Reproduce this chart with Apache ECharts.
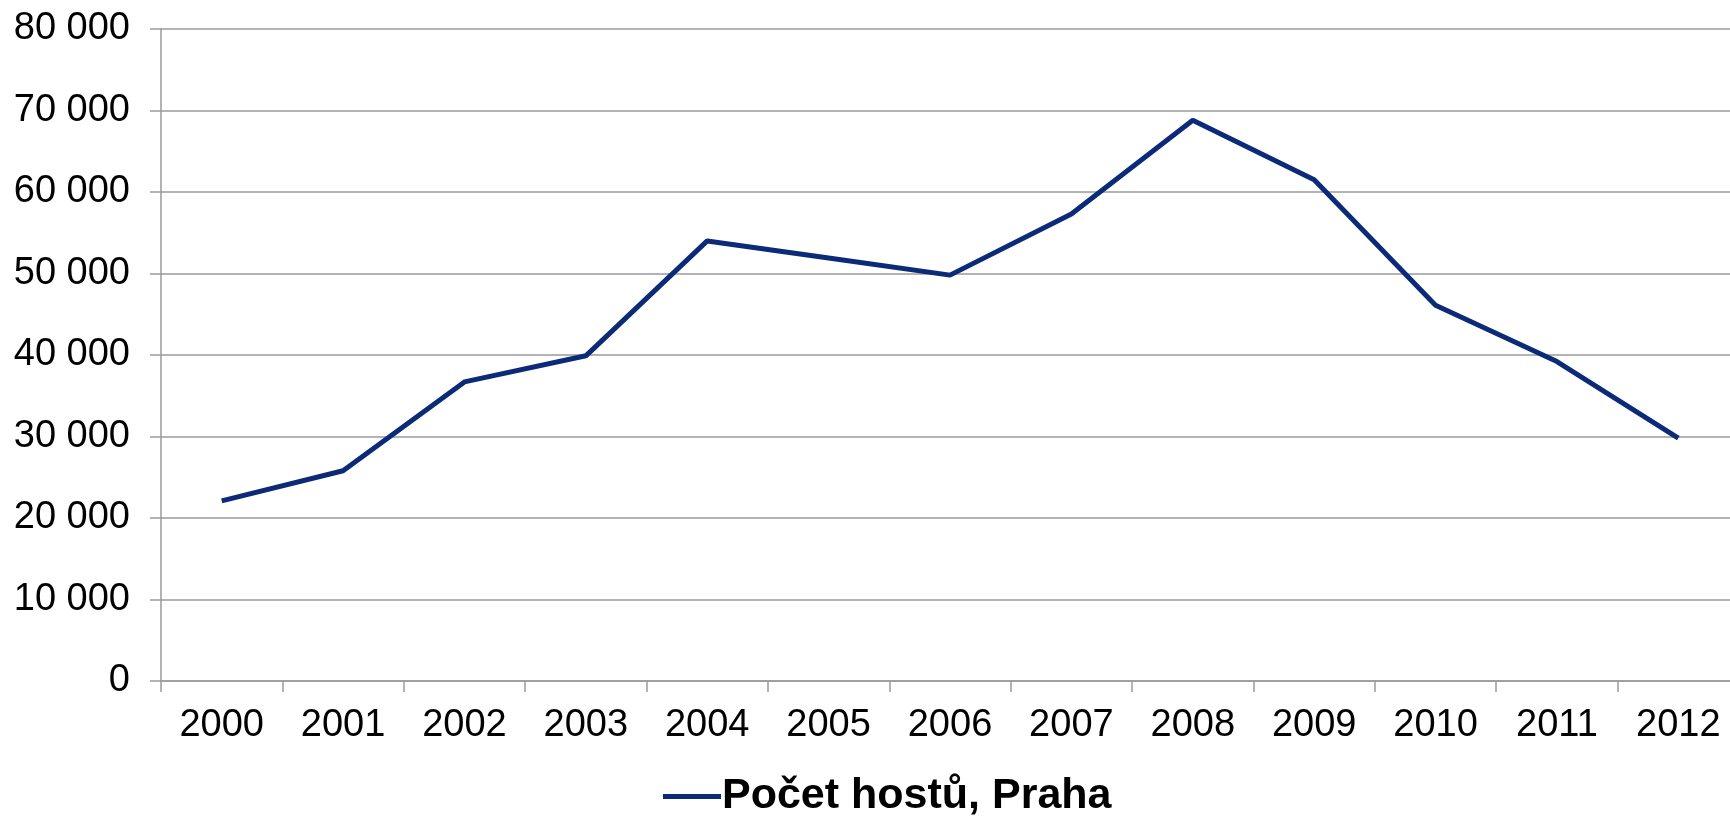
<!DOCTYPE html>
<html>
<head>
<meta charset="utf-8">
<title>Počet hostů, Praha</title>
<script src="https://cdn.jsdelivr.net/npm/echarts@6/dist/echarts.min.js"></script>
<style>
  html, body { margin: 0; padding: 0; background: #fff; }
  #chart { width: 1730px; height: 816px; }
</style>
</head>
<body>
<div id="chart"></div>
<script>
// roky a počty hostů
const years = ['2000', '2001', '2002', '2003', '2004', '2005', '2006',
  '2007', '2008', '2009', '2010', '2011', '2012'];
const guests = [22100, 25800, 36700, 39900, 54000, 51900, 49800,
  57300, 68800, 61500, 46100, 39200, 29800];
const seriesName = 'Počet hostů, Praha';

const font = '"Liberation Sans", Arial, sans-serif';
const gray = '#9a9a9a';

const chart = echarts.init(document.getElementById('chart'));

const option = {
  animation: false,
  backgroundColor: '#fff',
  grid: {
    left: 161,
    width: 1578,   // plocha grafu přesahuje pravý okraj obrázku
    top: 29,
    bottom: 135,
    outerBoundsMode: 'none'
  },
  legend: {
    left: 658,
    top: 770,
    icon: 'rect',
    itemWidth: 58,
    itemHeight: 5,
    itemGap: 0,
    textStyle: {
      fontFamily: font,
      fontSize: 43,
      fontWeight: 'bold',
      color: '#000',
      padding: [0, 0, 0, -4]
    },
    data: [seriesName]
  },
  xAxis: {
    type: 'category',
    data: years,
    boundaryGap: true,
    axisLine: { lineStyle: { color: gray, width: 1.5 } },
    axisTick: { show: true, length: 11, lineStyle: { color: gray, width: 1.5 } },
    axisLabel: {
      fontFamily: font,
      fontSize: 38,
      color: '#000',
      margin: 26
    }
  },
  yAxis: {
    type: 'value',
    min: 0,
    max: 80000,
    interval: 10000,
    axisLine: { show: true, lineStyle: { color: gray, width: 1.5 } },
    axisTick: { show: true, length: 11, lineStyle: { color: gray, width: 1.5 } },
    splitLine: { show: true, lineStyle: { color: gray, width: 1.5 } },
    axisLabel: {
      fontFamily: font,
      fontSize: 38,
      color: '#000',
      margin: 31,
      formatter: function (v) {
        return String(v).replace(/\B(?=(\d{3})+(?!\d))/g, ' ');
      }
    }
  },
  series: [{
    name: seriesName,
    type: 'line',
    data: guests,
    symbol: 'none',
    color: '#0b2a78',
    lineStyle: { color: '#0b2a78', width: 5 }
  }]
};

chart.setOption(option);
</script>
</body>
</html>
